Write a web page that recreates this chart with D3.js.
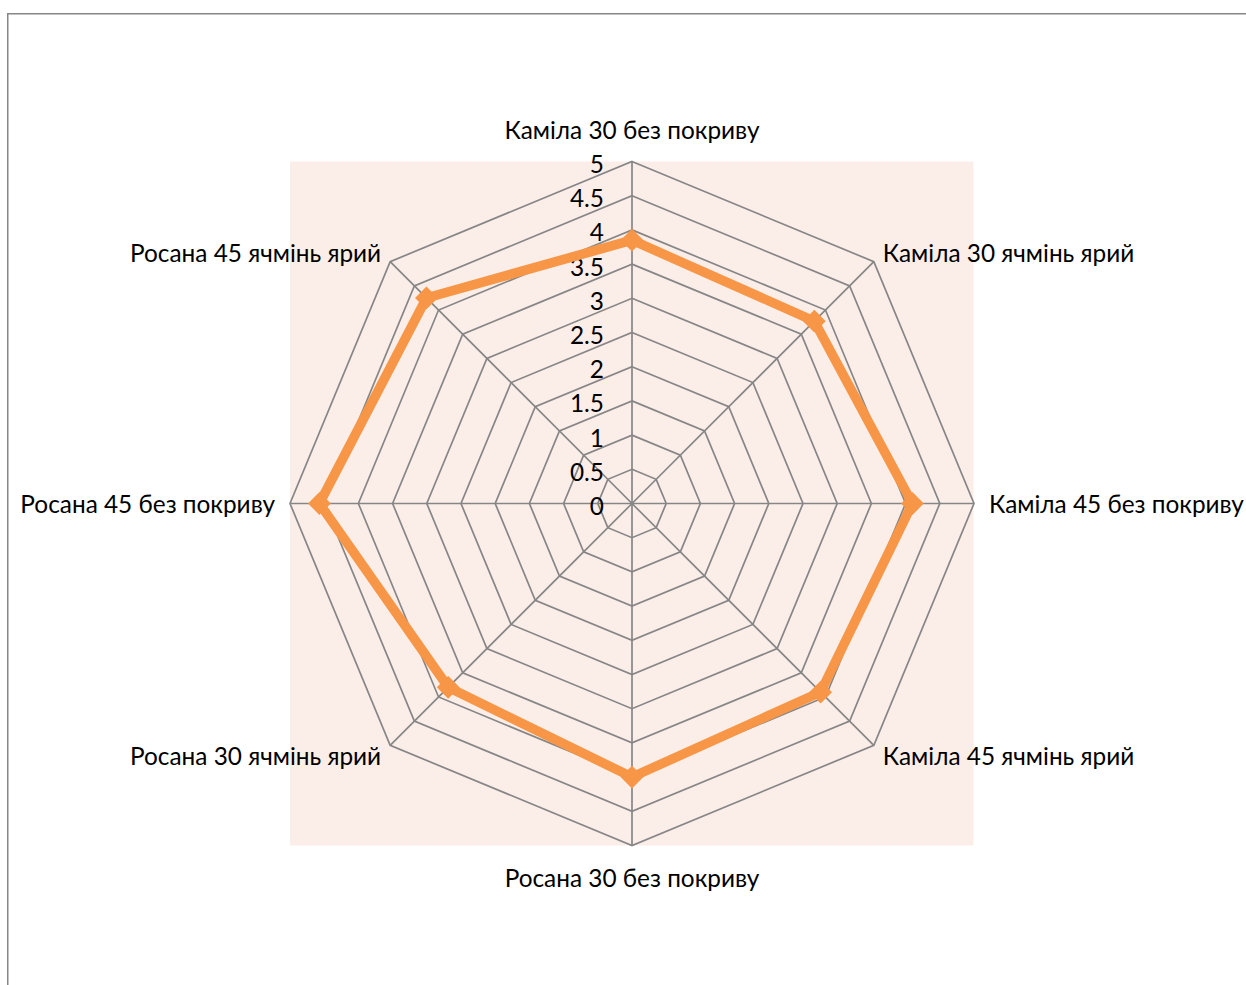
<!DOCTYPE html>
<html>
<head>
<meta charset="utf-8">
<script src="https://cdn.jsdelivr.net/npm/d3@7"></script>
<style>
  html, body { margin: 0; padding: 0; background: #fff; }
  svg { display: block; }
  text { font-family: Lato, "Open Sans", "Noto Sans", sans-serif; fill: #000; }
</style>
</head>
<body>
<svg id="chart" width="1246" height="985"></svg>
<script>
const categories = [
  "Каміла 30 без покриву",
  "Каміла 30 ячмінь ярий",
  "Каміла 45 без покриву",
  "Каміла 45 ячмінь ярий",
  "Росана 30 без покриву",
  "Росана 30 ячмінь ярий",
  "Росана 45 без покриву",
  "Росана 45 ячмінь ярий"
];
const values = [3.85, 3.77, 4.1, 3.9, 4.0, 3.8, 4.57, 4.25];
const tickValues = [0, 0.5, 1, 1.5, 2, 2.5, 3, 3.5, 4, 4.5, 5];
const tickLabels = ["0", "0.5", "1", "1.5", "2", "2.5", "3", "3.5", "4", "4.5", "5"];

const svg = d3.select("#chart");
const cx = 632, cy = 503.5, R = 342;
const gridColor = "#868686";
const seriesColor = "#F79646";

// outer chart border
svg.append("rect")
  .attr("x", 7.75).attr("y", 13.75)
  .attr("width", 1400).attr("height", 1200)
  .attr("fill", "none").attr("stroke", gridColor).attr("stroke-width", 1.5);

// plot area background
svg.append("rect")
  .attr("x", 290).attr("y", 161.5)
  .attr("width", 683.5).attr("height", 684)
  .attr("fill", "#FBEEE9");

const r = d3.scaleLinear().domain([0, 5]).range([0, R]);
const angle = d3.scalePoint().domain(categories).range([0, 2 * Math.PI * (categories.length - 1) / categories.length]);

function pt(cat, v) {
  const a = angle(cat);
  return [cx + r(v) * Math.sin(a), cy - r(v) * Math.cos(a)];
}

// rings
const g = svg.append("g");
tickValues.forEach(t => {
  if (t === 0) return;
  const pts = categories.map(c => pt(c, t));
  g.append("path")
    .attr("d", d3.line()(pts) + "Z")
    .attr("fill", "none").attr("stroke", gridColor).attr("stroke-width", 1.7);
});
// spokes
categories.forEach(c => {
  const [x, y] = pt(c, 5);
  g.append("line")
    .attr("x1", cx).attr("y1", cy).attr("x2", x).attr("y2", y)
    .attr("stroke", gridColor).attr("stroke-width", 1.7);
});

// font sizing: match label width of the original
const probe = svg.append("text").attr("font-size", 20).text(categories[0]);
const w20 = probe.node().getComputedTextLength();
probe.remove();
const fs = 20 * 255 / w20;

// tick labels
tickValues.forEach((t, i) => {
  svg.append("text")
    .attr("x", 604).attr("y", cy - r(t) + 2)
    .attr("text-anchor", "end").attr("dominant-baseline", "central")
    .attr("font-size", fs)
    .text(tickLabels[i]);
});

// category labels
const labelPos = [
  {dx: 0, dy: -32, anchor: "middle"},
  {dx: 9, dy: -9, anchor: "start"},
  {dx: 15, dy: 0, anchor: "start"},
  {dx: 9, dy: 10, anchor: "start"},
  {dx: 0, dy: 32, anchor: "middle"},
  {dx: -9, dy: 10, anchor: "end"},
  {dx: -15, dy: 0, anchor: "end"},
  {dx: -9, dy: -9, anchor: "end"}
];
categories.forEach((c, i) => {
  const [x, y] = pt(c, 5);
  svg.append("text")
    .attr("x", x + labelPos[i].dx).attr("y", y + labelPos[i].dy)
    .attr("text-anchor", labelPos[i].anchor).attr("dominant-baseline", "central")
    .attr("font-size", fs)
    .text(c);
});

// series
const pts = categories.map((c, i) => pt(c, values[i]));
svg.append("path")
  .attr("d", d3.line()(pts) + "Z")
  .attr("fill", "none").attr("stroke", seriesColor)
  .attr("stroke-width", 9.5).attr("stroke-linejoin", "miter");

const sym = d3.symbol().type(d3.symbolSquare).size(260);
svg.selectAll("path.marker").data(pts).enter().append("path")
  .attr("class", "marker")
  .attr("d", sym)
  .attr("transform", d => `translate(${d[0]},${d[1]}) rotate(45)`)
  .attr("fill", seriesColor);
</script>
</body>
</html>
